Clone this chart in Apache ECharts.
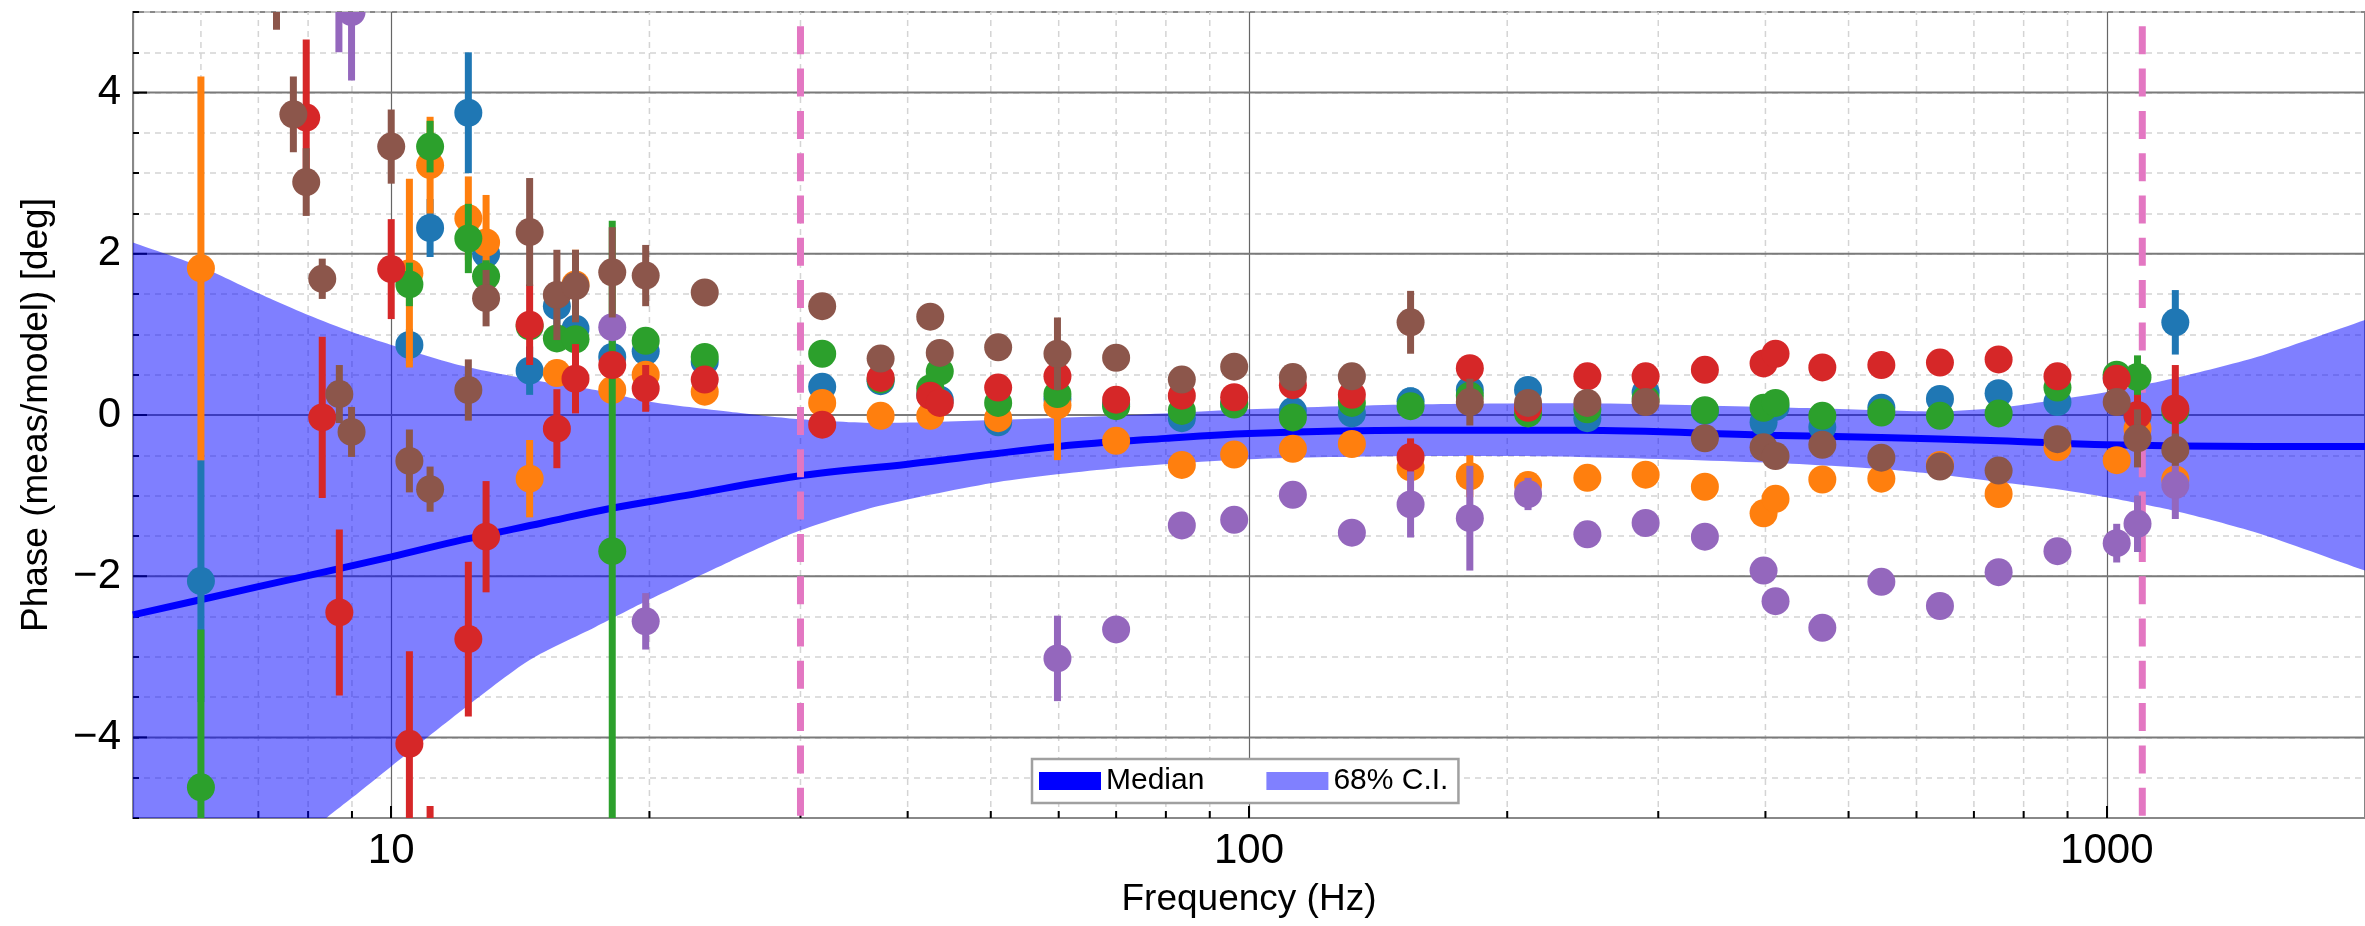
<!DOCTYPE html>
<html><head><meta charset="utf-8">
<script src="https://cdn.jsdelivr.net/npm/echarts@6/dist/echarts.min.js"></script>
<style>html,body{margin:0;padding:0;background:#fff}#c{width:2365px;height:926px}</style>
</head><body><div id="c"></div>
<script>
// ---- axis ticks ----
const xMin = 5, xMax = 2000, yMin = -5, yMax = 5;
const xMinorTicks = [6,7,8,9,20,30,40,50,60,70,80,90,200,300,400,500,600,700,800,900];
const yMajorTicks = [-4,-2,0,2,4];
const vLines = [30, 1100];

// ---- series: [frequency Hz, phase deg, error] ----
const seriesBlue = [[6.0,-2.06,1.5],[10.5,0.87,0.2],[11.1,2.32,0.36],[12.3,3.75,0.75],[12.9,2.00,0.3],[14.5,0.55,0.3],[15.6,1.35,0.3],[16.4,1.07,0.2],[18.1,0.72,0.2],[19.8,0.79,0.15],[23.2,0.66,0.08],[31.8,0.35,0.08],[37.2,0.42,0.08],[42.5,0.25,0.08],[43.6,0.19,0.08],[51,-0.09,0.08],[59.8,0.2,0.08],[70,0.13,0.08],[83.5,-0.04,0.08],[96.1,0.14,0.08],[112.5,0.05,0.08],[131.8,0.02,0.08],[154.3,0.17,0.17],[180.9,0.31,0.08],[211.5,0.31,0.08],[248,-0.04,0.08],[290,0.28,0.08],[340,0.05,0.08],[398,-0.09,0.08],[411,0.10,0.08],[466,-0.15,0.08],[546,0.09,0.1],[639,0.20,0.08],[748,0.27,0.08],[876,0.16,0.08],[1027,0.46,0.08],[1086,-0.02,0.1],[1202,1.15,0.4]];
const seriesOrange = [[6.0,1.82,2.38],[10.5,1.76,1.17],[11.1,3.10,0.6],[12.3,2.44,0.52],[12.9,2.14,0.59],[14.5,-0.79,0.48],[15.6,0.52,0.15],[16.4,1.62,0.43],[18.1,0.31,0.1],[19.8,0.50,0.1],[23.2,0.29,0.08],[31.8,0.15,0.08],[37.2,-0.01,0.08],[42.5,-0.01,0.08],[51,-0.04,0.08],[59.8,0.12,0.68],[70,-0.32,0.08],[83.5,-0.62,0.08],[96.1,-0.49,0.08],[112.5,-0.42,0.08],[131.8,-0.36,0.08],[154.3,-0.65,0.1],[180.9,-0.76,0.26],[211.5,-0.87,0.08],[248,-0.78,0.08],[290,-0.74,0.08],[340,-0.89,0.08],[398,-1.22,0.08],[411,-1.04,0.08],[466,-0.80,0.08],[546,-0.79,0.08],[639,-0.62,0.08],[748,-0.98,0.08],[876,-0.40,0.08],[1027,-0.56,0.08],[1086,-0.17,0.1],[1202,-0.80,0.1]];
const seriesGreen = [[6.0,-4.62,1.96],[10.5,1.62,0.27],[11.1,3.33,0.32],[12.3,2.19,0.43],[12.9,1.72,0.2],[14.5,1.10,0.15],[15.6,0.95,0.1],[16.4,0.94,0.1],[18.1,-1.69,4.1],[19.8,0.92,0.08],[23.2,0.72,0.08],[31.8,0.76,0.08],[37.2,0.44,0.08],[42.5,0.33,0.08],[43.6,0.54,0.08],[51,0.15,0.08],[59.8,0.26,0.08],[70,0.11,0.08],[83.5,0.05,0.08],[96.1,0.13,0.08],[112.5,-0.03,0.08],[131.8,0.15,0.08],[154.3,0.11,0.08],[180.9,0.24,0.08],[211.5,0.02,0.08],[248,0.07,0.08],[290,0.20,0.08],[340,0.06,0.08],[398,0.09,0.08],[411,0.15,0.1],[466,-0.01,0.08],[546,0.03,0.08],[639,-0.01,0.08],[748,0.02,0.08],[876,0.34,0.08],[1027,0.50,0.1],[1086,0.47,0.27],[1202,0.05,0.08]];
const seriesRed = [[7.96,3.69,0.97],[8.31,-0.03,1.0],[8.7,-2.45,1.03],[10.0,1.81,0.62],[10.5,-4.08,1.15],[11.1,-5.9,1.05],[12.3,-2.78,0.96],[12.9,-1.51,0.69],[14.5,1.12,0.5],[15.6,-0.17,0.49],[16.4,0.45,0.43],[18.1,0.62,0.15],[19.8,0.33,0.29],[23.2,0.44,0.08],[31.8,-0.12,0.08],[37.2,0.46,0.08],[42.5,0.24,0.08],[43.6,0.15,0.08],[51,0.34,0.08],[59.8,0.48,0.08],[70,0.19,0.08],[83.5,0.24,0.08],[96.1,0.22,0.08],[112.5,0.37,0.08],[131.8,0.25,0.08],[154.3,-0.52,0.23],[180.9,0.58,0.1],[211.5,0.09,0.08],[248,0.48,0.08],[290,0.48,0.08],[340,0.56,0.08],[398,0.64,0.08],[411,0.76,0.08],[466,0.59,0.08],[546,0.62,0.08],[639,0.65,0.08],[748,0.69,0.08],[876,0.48,0.08],[1027,0.45,0.15],[1086,0.0,0.25],[1202,0.08,0.54]];
const seriesPurple = [[8.69,5.3,0.8],[8.99,5.0,0.85],[18.1,1.09,0.08],[19.8,-2.56,0.35],[59.8,-3.02,0.53],[70,-2.66,0.08],[83.5,-1.37,0.08],[96.1,-1.30,0.08],[112.5,-0.99,0.08],[131.8,-1.46,0.08],[154.3,-1.11,0.41],[180.9,-1.28,0.65],[211.5,-0.98,0.2],[248,-1.48,0.08],[290,-1.34,0.08],[340,-1.51,0.08],[398,-1.93,0.08],[411,-2.31,0.08],[466,-2.64,0.08],[546,-2.07,0.08],[639,-2.37,0.08],[748,-1.95,0.08],[876,-1.69,0.1],[1027,-1.59,0.24],[1086,-1.35,0.35],[1202,-0.87,0.42]];
const seriesBrown = [[7.35,5.5,0.72],[7.69,3.73,0.47],[7.96,2.89,0.42],[8.31,1.69,0.25],[8.7,0.26,0.36],[8.99,-0.21,0.31],[10.0,3.33,0.46],[10.5,-0.57,0.39],[11.1,-0.92,0.28],[12.3,0.31,0.38],[12.9,1.45,0.35],[14.5,2.27,0.67],[15.6,1.49,0.56],[16.4,1.60,0.45],[18.1,1.77,0.56],[19.8,1.73,0.38],[23.2,1.52,0.08],[31.8,1.35,0.08],[37.2,0.70,0.1],[42.5,1.22,0.12],[43.6,0.77,0.12],[51,0.84,0.08],[59.8,0.76,0.45],[70,0.71,0.08],[83.5,0.44,0.08],[96.1,0.60,0.08],[112.5,0.47,0.08],[131.8,0.48,0.08],[154.3,1.15,0.39],[180.9,0.16,0.29],[211.5,0.15,0.08],[248,0.15,0.08],[290,0.16,0.08],[340,-0.29,0.08],[398,-0.40,0.08],[411,-0.51,0.1],[466,-0.37,0.08],[546,-0.53,0.08],[639,-0.64,0.08],[748,-0.69,0.08],[876,-0.30,0.08],[1027,0.16,0.08],[1086,-0.29,0.36],[1202,-0.43,0.2]];

// ---- median and 68% band ----
const medFreq = [5,7,10,12.1,15,18,22,29.7,40,60,80,100,154,243,400,546,748,1000,1496,2000];
const medVal  = [-2.48,-2.13,-1.76,-1.55,-1.34,-1.16,-1.0,-0.76,-0.61,-0.39,-0.29,-0.23,-0.19,-0.19,-0.25,-0.28,-0.32,-0.37,-0.39,-0.39];
const bandFreq  = [5,6,7,8,9,10,12.1,14.5,17.3,20,24.8,29.7,37,51,70,100,154,243,400,546,640,748,876,1000,1202,1496,2000];
const bandUpper = [2.14,1.84,1.51,1.24,1.03,0.87,0.61,0.44,0.31,0.165,0.04,-0.05,-0.1,-0.06,-0.01,0.07,0.13,0.145,0.10,0.06,0.045,0.09,0.19,0.285,0.46,0.72,1.18];
const bandLower = [-7.2,-6.4,-5.7,-5.18,-4.75,-4.36,-3.66,-3.04,-2.63,-2.29,-1.82,-1.45,-1.13,-0.83,-0.66,-0.55,-0.51,-0.52,-0.59,-0.67,-0.74,-0.83,-0.92,-1.02,-1.19,-1.46,-1.93];

const FONT = "'Liberation Sans', Arial, Helvetica, sans-serif";
const colors = {blue:'#1f77b4', orange:'#ff7f0e', green:'#2ca02c', red:'#d62728', purple:'#9467bd', brown:'#8c564b'};

function pointRenderer(color){
  return function(params, api){
    const f = api.value(0), v = api.value(1), e = api.value(2);
    const c = api.coord([f, v]), t = api.coord([f, v + e]), b = api.coord([f, v - e]);
    return {type:'group', children:[
      {type:'rect', shape:{x:c[0]-3.5, y:t[1], width:7, height:b[1]-t[1]}, style:{fill:color}},
      {type:'circle', shape:{cx:c[0], cy:c[1], r:14}, style:{fill:color}}
    ]};
  };
}
function pointSeries(name, data, color, z){
  return {type:'custom', name:name, data:data, encode:{x:0, y:1}, clip:true, z:z, silent:true,
          renderItem: pointRenderer(color)};
}

const chart = echarts.init(document.getElementById('c'), null, {renderer:'canvas'});
const option = {
  backgroundColor:'#ffffff',
  animation:false,
  grid:{left:133, right:0, top:12, bottom:108, show:true, borderColor:'#888888', borderWidth:2, backgroundColor:'transparent'},
  legend:{
    left:1032, top:759, z:30, selectedMode:false,
    backgroundColor:'#ffffff', borderColor:'#a0a0a0', borderWidth:2.5, borderRadius:0,
    padding:[7,10,7,7], itemGap:62, itemWidth:62, itemHeight:18,
    textStyle:{fontFamily:FONT, fontSize:30, color:'#000'},
    data:[{name:'Median', icon:'rect', itemStyle:{color:'#0000ff'}},
          {name:'68% C.I.', icon:'rect', itemStyle:{color:'#8080ff'}}]
  },
  xAxis:{
    type:'log', logBase:10, min:xMin, max:xMax,
    name:'Frequency (Hz)', nameLocation:'middle', nameGap:63,
    nameTextStyle:{fontFamily:FONT, fontSize:37, color:'#000'},
    axisLine:{show:true, onZero:false, lineStyle:{color:'#888888', width:2}},
    axisTick:{show:true, inside:true, length:12, lineStyle:{color:'#000', width:2}},
    axisLabel:{fontFamily:FONT, fontSize:42, color:'#000', margin:12, showMinLabel:false, showMaxLabel:false,
               formatter:function(v){ return String(Math.round(v)); }},
    splitLine:{show:true, lineStyle:{color:'#666666', width:1.2}},
    minorTick:{show:false}, minorSplitLine:{show:false}
  },
  yAxis:{
    type:'value', min:yMin, max:yMax, interval:0.5,
    name:'Phase (meas/model) [deg]', nameLocation:'middle', nameGap:78,
    nameTextStyle:{fontFamily:FONT, fontSize:37, color:'#000'},
    axisLine:{show:true, onZero:false, lineStyle:{color:'#888888', width:2}},
    axisTick:{show:true, inside:true, length:6, lineStyle:{color:'#000', width:2}},
    axisLabel:{fontFamily:FONT, fontSize:42, color:'#000', margin:12,
      formatter:function(v){
        for (const t of yMajorTicks){ if (Math.abs(v-t) < 1e-9) return t < 0 ? '\u2212' + Math.abs(t) : String(t); }
        return '';
      }},
    splitLine:{show:true, lineStyle:{color:'#d4d4d4', width:1.5, type:[6,5]}}
  },
  series:[
    // minor x grid lines + ticks
    {type:'custom', name:'xminor', silent:true, z:1, clip:false,
     data: xMinorTicks.map(f => [f, yMin]), encode:{x:0, y:1},
     renderItem:function(params, api){
       const b = api.coord([api.value(0), yMin]), t = api.coord([api.value(0), yMax]);
       return {type:'group', children:[
         {type:'line', shape:{x1:b[0], y1:b[1], x2:t[0], y2:t[1]}, style:{stroke:'#d4d4d4', lineWidth:1.5, lineDash:[6,5]}},
         {type:'line', shape:{x1:b[0], y1:b[1], x2:b[0], y2:b[1]-7}, style:{stroke:'#000', lineWidth:2}}
       ]};
     }},
    // major y grid lines + ticks
    {type:'custom', name:'ymajor', silent:true, z:1, clip:false,
     data: yMajorTicks.map(v => [xMin, v]), encode:{x:0, y:1},
     renderItem:function(params, api){
       const l = api.coord([xMin, api.value(1)]), r = api.coord([xMax, api.value(1)]);
       return {type:'group', children:[
         {type:'line', shape:{x1:l[0], y1:l[1], x2:r[0], y2:r[1]}, style:{stroke:'#7a7a7a', lineWidth:2}},
         {type:'line', shape:{x1:l[0], y1:l[1], x2:l[0]+14, y2:l[1]}, style:{stroke:'#000', lineWidth:2}}
       ]};
     }},
    // 68% band (closed smooth polygon; end corners doubled so they stay sharp)
    {type:'custom', name:'68% C.I.', silent:true, z:3, clip:true,
     itemStyle:{color:'#8080ff'},
     data:[[bandFreq[0], bandUpper[0]]], encode:{x:0, y:1},
     renderItem:function(params, api){
       const n = bandFreq.length, pts = [];
       for (let i = 0; i < n; i++) {
         const p = api.coord([bandFreq[i], bandUpper[i]]);
         pts.push(p); if (i === 0 || i === n-1) pts.push(p.slice());
       }
       for (let i = n - 1; i >= 0; i--) {
         const p = api.coord([bandFreq[i], bandLower[i]]);
         pts.push(p); if (i === 0 || i === n-1) pts.push(p.slice());
       }
       return {type:'polygon', shape:{points:pts, smooth:0.25}, style:{fill:'rgba(0,0,255,0.5)'}};
     }},
    // median
    {type:'line', name:'Median', z:4, silent:true, smooth:0.35, symbol:'none', clip:true,
     data: medFreq.map((f,i) => [f, medVal[i]]),
     lineStyle:{color:'#0000ff', width:7}, itemStyle:{color:'#0000ff'}},
    // vertical dashed lines
    {type:'custom', name:'vlines', silent:true, z:5, clip:true,
     data: vLines.map(f => [f, yMax]), encode:{x:0, y:1},
     renderItem:function(params, api){
       const t = api.coord([api.value(0), yMax]), b = api.coord([api.value(0), yMin]);
       return {type:'line', shape:{x1:t[0], y1:t[1], x2:b[0], y2:b[1]},
               style:{stroke:'#e377c2', lineWidth:7, lineDash:[28,14.3], lineDashOffset:28}};
     }},
    pointSeries('C0', seriesBlue, colors.blue, 10),
    pointSeries('C1', seriesOrange, colors.orange, 11),
    pointSeries('C2', seriesGreen, colors.green, 12),
    pointSeries('C3', seriesRed, colors.red, 13),
    pointSeries('C4', seriesPurple, colors.purple, 14),
    pointSeries('C5', seriesBrown, colors.brown, 15)
  ]
};
chart.setOption(option);
</script></body></html>
